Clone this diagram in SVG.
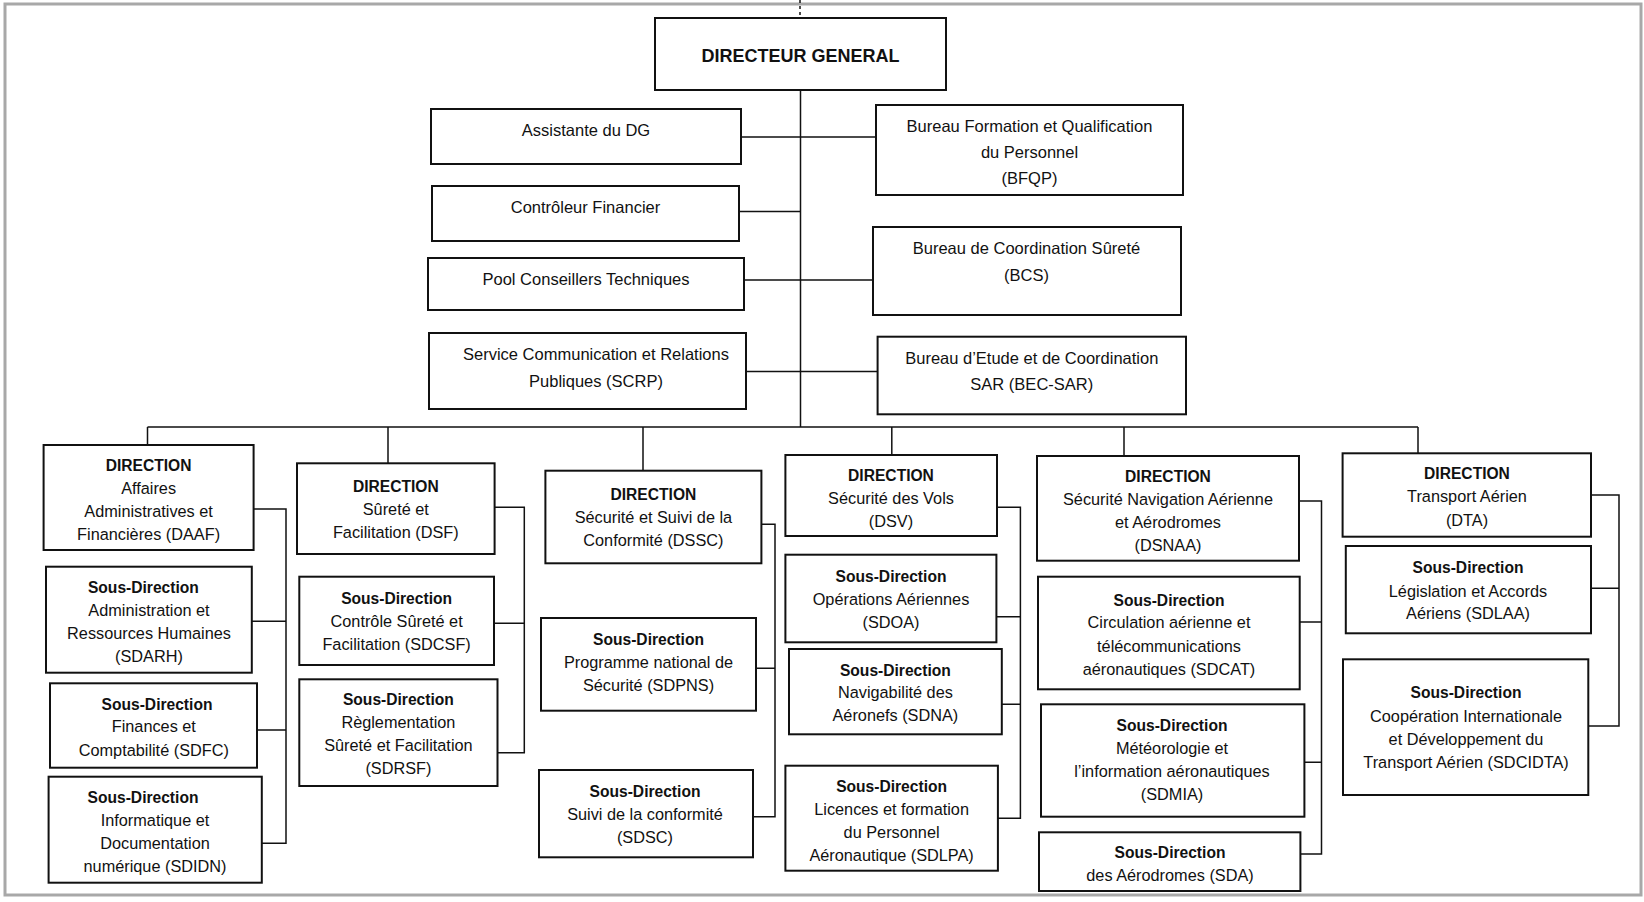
<svg xmlns="http://www.w3.org/2000/svg" width="1644" height="902" viewBox="0 0 1644 902">
<style>
.bx{fill:#fff;stroke:#111;stroke-width:2}
.t{font-family:"Liberation Sans",Arial,sans-serif;font-size:16.3px;fill:#111;text-anchor:middle}
.tt{font-family:"Liberation Sans",Arial,sans-serif;font-size:16.5px;fill:#111;text-anchor:middle}
.b{font-weight:bold;font-size:15.6px}
.dg{font-family:"Liberation Sans",Arial,sans-serif;font-size:18px;font-weight:bold;fill:#111;text-anchor:middle}
.ln{fill:none;stroke:#111;stroke-width:1.5}
</style>
<rect x="0" y="0" width="1644" height="902" fill="#fff"/>
<rect x="5" y="4" width="1636" height="891" fill="none" stroke="#a8a8a8" stroke-width="3"/>
<g id="connectors">
<path class="ln" stroke-dasharray="3,3" d="M800 0V18"/>
<path class="ln" d="M800.5 90V427"/>
<path class="ln" d="M741 137H876M739 211.5H800.5M744 280H873M745.5 371.5H877.6"/>
<path class="ln" d="M147.5 427H1418M147.5 427V445M388 427V463.3M643 427V470.7M891.8 427V455M1124 427V456M1418 427V453.3"/>
<path class="ln" d="M253.6 509H286V843.3H261.8M251.8 621.3H286M257 730H286"/>
<path class="ln" d="M494.6 507.3H524.3V752.7H497.5M494 623.3H524.3"/>
<path class="ln" d="M761.4 524.3H775V816.7H752.9M756 668.3H775"/>
<path class="ln" d="M997 507.3H1020.4V818.3H997.9M996.4 616.7H1020.4M1001.8 704.3H1020.4"/>
<path class="ln" d="M1299 501H1321.5V854H1300.4M1299.7 622H1321.5M1304.4 762.3H1321.5"/>
<path class="ln" d="M1591 495H1619V726H1588.3M1591 588.3H1619"/>
</g>
<g id="dg"><rect class="bx" x="655" y="18" width="291" height="72"/><text class="dg" x="800.5" y="61.5">DIRECTEUR GENERAL</text></g>
<g id="assistante"><rect class="bx" x="431" y="109" width="310" height="55"/><text class="tt" x="586" y="136">Assistante du DG</text></g>
<g id="controleur"><rect class="bx" x="432" y="186" width="307" height="55"/><text class="tt" x="585.5" y="213.3">Contrôleur Financier</text></g>
<g id="pool"><rect class="bx" x="428" y="258" width="316" height="52"/><text class="tt" x="586" y="285.3">Pool Conseillers Techniques</text></g>
<g id="scrp"><rect class="bx" x="429" y="333" width="317" height="76"/><text class="tt" x="596" y="360">Service Communication et Relations</text><text class="tt" x="596" y="386.7">Publiques (SCRP)</text></g>
<g id="bfqp"><rect class="bx" x="876" y="105" width="307" height="90"/><text class="tt" x="1029.5" y="132">Bureau Formation et Qualification</text><text class="tt" x="1029.5" y="158.3">du Personnel</text><text class="tt" x="1029.5" y="184.3">(BFQP)</text></g>
<g id="bcs"><rect class="bx" x="873" y="227" width="308" height="88"/><text class="tt" x="1026.5" y="254.3">Bureau de Coordination Sûreté</text><text class="tt" x="1026.5" y="281">(BCS)</text></g>
<g id="becsar"><rect class="bx" x="877.6" y="336.7" width="308.4" height="77.6"/><text class="tt" x="1031.8" y="363.7">Bureau d’Etude et de Coordination</text><text class="tt" x="1031.8" y="390">SAR (BEC-SAR)</text></g>

<g id="daaf"><rect class="bx" x="43.6" y="445" width="210" height="105"/><text class="t b" x="148.6" y="471.3">DIRECTION</text><text class="t" x="148.6" y="494">Affaires</text><text class="t" x="148.6" y="517.4">Administratives et</text><text class="t" x="148.6" y="540">Financières (DAAF)</text></g>
<g id="sdarh"><rect class="bx" x="46" y="566.7" width="205.8" height="106"/><text class="t b" x="143.4" y="593.3">Sous-Direction</text><text class="t" x="149" y="616.4">Administration et</text><text class="t" x="149" y="639.4">Ressources Humaines</text><text class="t" x="149" y="662.4">(SDARH)</text></g>
<g id="sdfc"><rect class="bx" x="50" y="683.3" width="207" height="84.4"/><text class="t b" x="157" y="709.6">Sous-Direction</text><text class="t" x="153.8" y="732.4">Finances et</text><text class="t" x="153.8" y="755.7">Comptabilité (SDFC)</text></g>
<g id="sdidn"><rect class="bx" x="48.6" y="776.7" width="213.2" height="106"/><text class="t b" x="143" y="802.9">Sous-Direction</text><text class="t" x="155" y="825.7">Informatique et</text><text class="t" x="155" y="849">Documentation</text><text class="t" x="155" y="871.7">numérique (SDIDN)</text></g>

<g id="dsf"><rect class="bx" x="297" y="463.3" width="197.6" height="90.7"/><text class="t b" x="395.8" y="491.6">DIRECTION</text><text class="t" x="395.8" y="515">Sûreté et</text><text class="t" x="395.8" y="538.4">Facilitation (DSF)</text></g>
<g id="sdcsf"><rect class="bx" x="299.3" y="576.7" width="194.7" height="88.3"/><text class="t b" x="396.6" y="603.9">Sous-Direction</text><text class="t" x="396.6" y="626.7">Contrôle Sûreté et</text><text class="t" x="396.6" y="649.7">Facilitation (SDCSF)</text></g>
<g id="sdrsf"><rect class="bx" x="299.3" y="679.3" width="198.2" height="106.7"/><text class="t b" x="398.4" y="704.9">Sous-Direction</text><text class="t" x="398.4" y="728.4">Règlementation</text><text class="t" x="398.4" y="751">Sûreté et Facilitation</text><text class="t" x="398.4" y="774.4">(SDRSF)</text></g>

<g id="dssc"><rect class="bx" x="545.4" y="470.7" width="216" height="92.6"/><text class="t b" x="653.4" y="499.6">DIRECTION</text><text class="t" x="653.4" y="523">Sécurité et Suivi de la</text><text class="t" x="653.4" y="546.4">Conformité (DSSC)</text></g>
<g id="sdpns"><rect class="bx" x="541" y="618" width="215" height="92.7"/><text class="t b" x="648.5" y="644.6">Sous-Direction</text><text class="t" x="648.5" y="667.7">Programme national de</text><text class="t" x="648.5" y="690.7">Sécurité (SDPNS)</text></g>
<g id="sdsc"><rect class="bx" x="539" y="770" width="214" height="87.3"/><text class="t b" x="645" y="797.3">Sous-Direction</text><text class="t" x="645" y="820">Suivi de la conformité</text><text class="t" x="645" y="843">(SDSC)</text></g>

<g id="dsv"><rect class="bx" x="785.4" y="455" width="211.6" height="81"/><text class="t b" x="891" y="480.9">DIRECTION</text><text class="t" x="891" y="504.4">Sécurité des Vols</text><text class="t" x="891" y="526.7">(DSV)</text></g>
<g id="sdoa"><rect class="bx" x="785.4" y="554.7" width="211" height="87.6"/><text class="t b" x="891" y="582.3">Sous-Direction</text><text class="t" x="891" y="605">Opérations Aériennes</text><text class="t" x="891" y="628">(SDOA)</text></g>
<g id="sdna"><rect class="bx" x="789" y="649" width="212.8" height="85.3"/><text class="t b" x="895.4" y="675.6">Sous-Direction</text><text class="t" x="895.4" y="698.4">Navigabilité des</text><text class="t" x="895.4" y="721">Aéronefs (SDNA)</text></g>
<g id="sdlpa"><rect class="bx" x="785.4" y="765.7" width="212.5" height="105"/><text class="t b" x="891.6" y="792.3">Sous-Direction</text><text class="t" x="891.6" y="814.7">Licences et formation</text><text class="t" x="891.6" y="838">du Personnel</text><text class="t" x="891.6" y="860.7">Aéronautique (SDLPA)</text></g>

<g id="dsnaa"><rect class="bx" x="1037" y="456" width="262" height="104.7"/><text class="t b" x="1168" y="481.6">DIRECTION</text><text class="t" x="1168" y="505">Sécurité Navigation Aérienne</text><text class="t" x="1168" y="528">et Aérodromes</text><text class="t" x="1168" y="551.4">(DSNAA)</text></g>
<g id="sdcat"><rect class="bx" x="1038" y="576.7" width="261.7" height="112.6"/><text class="t b" x="1169" y="605.6">Sous-Direction</text><text class="t" x="1169" y="628.4">Circulation aérienne et</text><text class="t" x="1169" y="651.7">télécommunications</text><text class="t" x="1169" y="675">aéronautiques (SDCAT)</text></g>
<g id="sdmia"><rect class="bx" x="1041" y="704.3" width="263.4" height="112.4"/><text class="t b" x="1172" y="730.6">Sous-Direction</text><text class="t" x="1172" y="754">Météorologie et</text><text class="t" x="1172" y="777.4">l’information aéronautiques</text><text class="t" x="1172" y="800">(SDMIA)</text></g>
<g id="sda"><rect class="bx" x="1039" y="832.3" width="261.4" height="58.7"/><text class="t b" x="1170" y="857.9">Sous-Direction</text><text class="t" x="1170" y="881.4">des Aérodromes (SDA)</text></g>

<g id="dta"><rect class="bx" x="1342.6" y="453.3" width="248.4" height="83.4"/><text class="t b" x="1467" y="478.9">DIRECTION</text><text class="t" x="1467" y="502.4">Transport Aérien</text><text class="t" x="1467" y="525.7">(DTA)</text></g>
<g id="sdlaa"><rect class="bx" x="1345.8" y="546" width="245.2" height="87.3"/><text class="t b" x="1468" y="573.3">Sous-Direction</text><text class="t" x="1468" y="596.7">Législation et Accords</text><text class="t" x="1468" y="619">Aériens (SDLAA)</text></g>
<g id="sdcidta"><rect class="bx" x="1343" y="659.3" width="245.3" height="135.7"/><text class="t b" x="1466" y="698.3">Sous-Direction</text><text class="t" x="1466" y="721.7">Coopération Internationale</text><text class="t" x="1466" y="745">et Développement du</text><text class="t" x="1466" y="768.4">Transport Aérien (SDCIDTA)</text></g>
</svg>
